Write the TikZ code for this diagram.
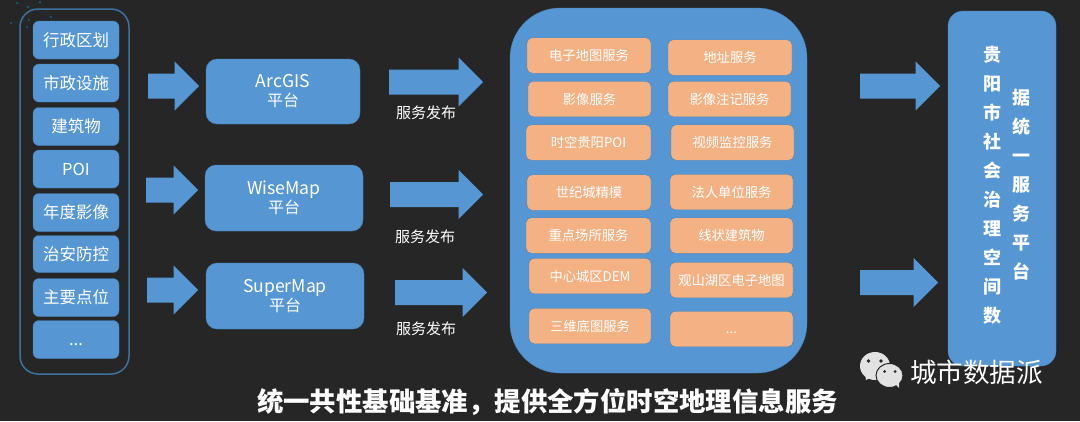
\documentclass[tikz,border=0pt]{standalone}
\usepackage{fontspec}
\setmainfont{Noto Sans CJK SC}
\usetikzlibrary{shapes.arrows}
\definecolor{bgcol}{HTML}{262626}
\definecolor{bluecol}{HTML}{5596D3}
\definecolor{edgecol}{HTML}{4A80B4}
\definecolor{orangecol}{HTML}{F4B183}
\definecolor{framecol}{HTML}{3F719F}
\definecolor{dotcol}{HTML}{14627F}
\definecolor{logocol}{HTML}{E2E2E2}
\newcommand{\latinsize}{\fontsize{17.6}{19}\selectfont}
\tikzset{
  sourcebox/.style={fill=bluecol,draw=edgecol,rounded corners=6pt,text=white,inner sep=0pt,font=\fontsize{16.5}{18}\selectfont},
  platbox/.style={fill=bluecol,draw=edgecol,rounded corners=11pt,text=white,inner sep=0pt,align=center,font=\fontsize{16}{19}\selectfont},
  servbox/.style={fill=orangecol,draw=edgecol,rounded corners=5pt,text=white,inner sep=0pt,minimum height=35.5,font=\fontsize{13.3}{15}\selectfont},
  blockarrow/.style={single arrow,fill=bluecol,inner xsep=0pt,inner ysep=12.3pt,minimum width=49,single arrow tip angle=90,single arrow head extend=12.2pt,anchor=tail},
  publabel/.style={text=white,inner sep=0pt,font=\fontsize{15}{17}\selectfont},
  vertlabel/.style={text=white,inner sep=0pt,align=center,font=\fontsize{18}{29}\selectfont\bfseries},
}
\begin{document}
\begin{tikzpicture}[x=1pt,y=-1pt]
\fill[bgcol] (0,0) rectangle (1080,421);
\useasboundingbox (0,0) rectangle (1080,421);
% corner decoration
\draw[dotcol!45!bgcol,very thin] (17,3) -- (28,7) -- (51,17) -- (40,2) -- (28,7) -- (29,20) -- (11,23);
\foreach \x/\y in {17/3,28/7,40/2,51/17,29/20,11/23,27/27}
  \fill[dotcol] (\x,\y) circle (1.2);
% source column
\node[fill=none,draw=framecol,line width=1.5pt,rounded corners=18pt,minimum width=109,minimum height=365] (srcframe) at (74.5,191.5) {};
\foreach \name/\y/\h/\txt in {a/40/38/行政区划,b/83/38/市政设施,c/126.5/38/建筑物,d/169/38/POI,e/212.5/38/年度影像,f/254/37/治安防控,g/297.5/38/主要点位,h/339.5/38/{\vphantom{国}...}}
  \node[sourcebox,minimum width=86,minimum height=\h] (src\name) at (76,\y) {\txt};
% platforms
\node[platbox,minimum width=154,minimum height=65] (arcgis) at (283,91.5) {{\latinsize ArcGIS}\\平台};
\node[platbox,minimum width=158,minimum height=66] (wisemap) at (284,198) {{\latinsize WiseMap}\\平台};
\node[platbox,minimum width=158,minimum height=66] (supermap) at (285,296) {{\latinsize SuperMap}\\平台};
% arrows
\node[blockarrow,minimum height=51] (in1) at (148,86) {};
\node[blockarrow,minimum height=52] (in2) at (146,190) {};
\node[blockarrow,minimum height=51] (in3) at (147,290) {};
\node[blockarrow,minimum height=94] (pub1) at (389,82) {};
\node[blockarrow,minimum height=93] (pub2) at (390,194.5) {};
\node[blockarrow,minimum height=92] (pub3) at (395,292.5) {};
\node[blockarrow,minimum height=80] (out1) at (860,86) {};
\node[blockarrow,minimum height=78] (out2) at (860,282.5) {};
\node[publabel] (pubt1) at (426,112.5) {服务发布};
\node[publabel] (pubt2) at (425,237) {服务发布};
\node[publabel] (pubt3) at (426,329) {服务发布};
% service panel
\node[fill=bluecol,draw=edgecol,rounded corners=50pt,minimum width=297,minimum height=365] (servpanel) at (658.5,190.5) {};
\foreach \name/\x/\y/\w/\txt in {
  a/589/55.5/124/电子地图服务, b/730/57.5/124/地址服务,
  c/589.5/99/123/影像服务, d/729.5/99/123/影像注记服务,
  e/588.5/142.5/125/时空贵阳POI, f/732.5/142.5/123/视频监控服务,
  g/589/192.5/124/世纪城精模, h/731.5/192/123/法人单位服务,
  i/588.5/235.5/125/重点场所服务, j/731.5/235.5/123/线状建筑物,
  k/590/276/122/中心城区DEM, l/731.5/280/123/观山湖区电子地图,
  m/590/326/122/三维底图服务, n/731.5/329/123/{\vphantom{国}...}}
  \node[servbox,minimum width=\w] (serv\name) at (\x,\y) {\txt};
% result panel
\node[fill=bluecol,draw=edgecol,rounded corners=15pt,minimum width=108,minimum height=355] (resultpanel) at (1002,188.5) {};
\node[vertlabel] (result1) at (992,185) {贵\\阳\\市\\社\\会\\治\\理\\空\\间\\数};
\node[vertlabel] (result2) at (1021,185) {据\\统\\一\\服\\务\\平\\台};
% caption
\node[text=white,inner sep=0pt,font=\fontsize{26.4}{30}\selectfont\bfseries] (caption) at (547.5,402) {统一共性基础基准\symbol{"FF0C}提供全方位时空地理信息服务};
% logo
\fill[logocol] (875,366) ellipse (15 and 14);
\fill[logocol] (865,374) -- (866,380) -- (872,377) -- cycle;
\fill[bgcol] (868.5,361) circle (1.8) (881,361) circle (1.8);
\fill[logocol,draw=bgcol,line width=1pt] (889.5,375.5) ellipse (13.5 and 12);
\fill[logocol] (895,384) -- (899,388) -- (899,382) -- cycle;
\fill[bgcol] (884.5,371.5) circle (1.5) (895,371.5) circle (1.5);
\node[text=white,inner sep=0pt,font=\fontsize{26.6}{30}\selectfont] (logotext) at (976.5,372) {城市数据派};
\end{tikzpicture}
\end{document}
